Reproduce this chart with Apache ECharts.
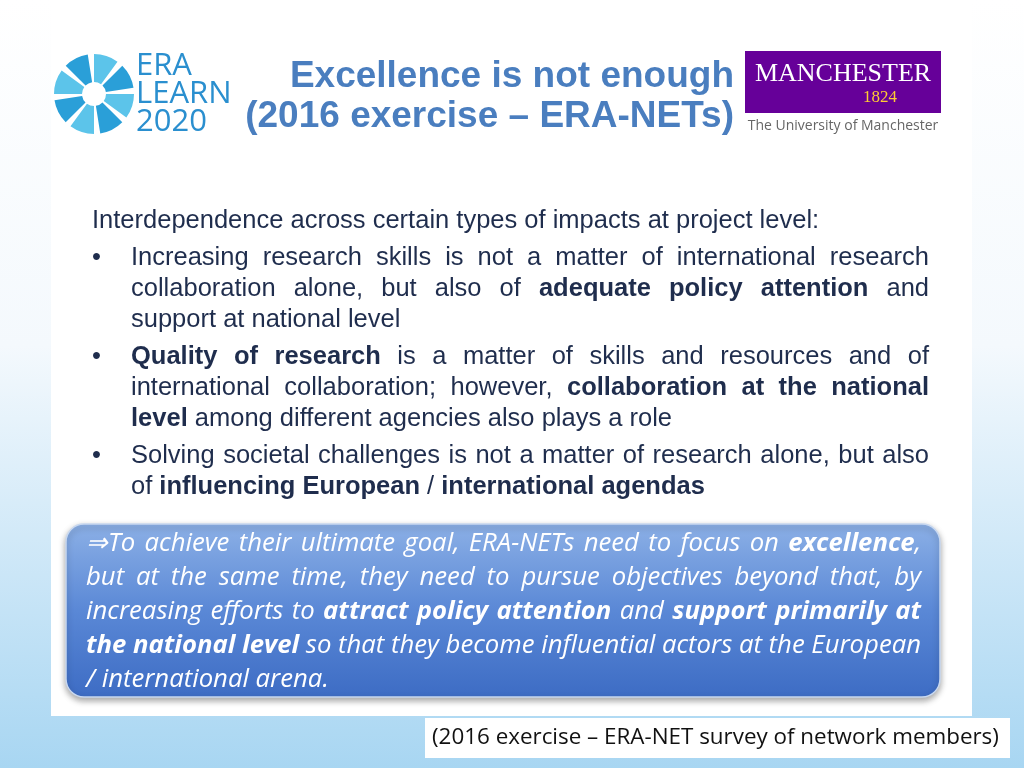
<!DOCTYPE html>
<html><head><meta charset="utf-8">
<script src="https://cdn.jsdelivr.net/npm/echarts@6/dist/echarts.min.js"></script>
<style>html,body{margin:0;padding:0;}#c{width:1024px;height:768px;}</style>
</head><body><div id="c"></div>
<script>
const titleLines = ["Excellence is not enough", "(2016 exercise – ERA-NETs)"];
const introLine = "Interdependence across certain types of impacts at project level:";
const bulletLines = [
  [["Increasing research skills is not a matter of international research",""]],
  [["collaboration alone, but also of ",""],["adequate policy attention","b"],[" and",""]],
  [["support at national level",""]],
  [["Quality of research","b"],[" is a matter of skills and resources and of",""]],
  [["international collaboration; however, ",""],["collaboration at the national","b"]],
  [["level","b"],[" among different agencies also plays a role",""]],
  [["Solving societal challenges is not a matter of research alone, but also",""]],
  [["of ",""],["influencing European","b"],[" / ",""],["international agendas","b"]]
];
const bulletStarts = [0,3,6];
const bulletJustify = [1,1,0,1,1,0,1,0];
const boxLines = [
  [["⇒To achieve their ultimate goal, ERA-NETs need to focus on ",""],["excellence","b"],[",",""]],
  [["but at the same time, they need to pursue objectives beyond that, by",""]],
  [["increasing efforts to ",""],["attract policy attention","b"],[" and ",""],["support primarily at","b"]],
  [["the national level","b"],[" so that they become influential actors at the European",""]],
  [["/ international arena.",""]]
];
const boxJustify = [1,1,1,1,0];
const footer = "(2016 exercise – ERA-NET survey of network members)";

const ctx=document.createElement('canvas').getContext('2d');
function w(text,font){ctx.font=font;return ctx.measureText(text).width;}
const chart = echarts.init(document.getElementById('c'));
const g = [];
function layoutLine(line,x0,x1,y,fonts,fill,justify){
  const words=[];
  line.forEach(([t,s])=>{
    const parts=t.split(' ');
    parts.forEach((p,i)=>{
      if(i>0) words.push({sp:true});
      if(p!=='') {
        const prev=words[words.length-1];
        if(prev && !prev.sp) prev.parts.push([p,s]); else words.push({parts:[[p,s]]});
      }
    });
  });
  const toks=words.filter(x=>!x.sp);
  const f=s=>s?fonts.b:fonts.n;
  const ww=toks.map(t=>t.parts.reduce((a,[p,s])=>a+w(p,f(s)),0));
  const sw=w(' ',fonts.n);
  const total=ww.reduce((a,b)=>a+b,0);
  const gap=justify&&toks.length>1?(x1-x0-total)/(toks.length-1):sw;
  let x=x0;
  toks.forEach((t,i)=>{
    let xx=x;
    t.parts.forEach(([p,s])=>{
      g.push({type:'text',x:xx,y:y,style:{text:p,font:f(s),fill:fill,textVerticalAlign:'middle'}});
      xx+=w(p,f(s));
    });
    x+=ww[i]+gap;
  });
}
g.push({type:'rect',shape:{x:0,y:0,width:1024,height:768},style:{fill:new echarts.graphic.LinearGradient(0,0,0,1,[{offset:0,color:'#ffffff'},{offset:0.45,color:'#f4f9fd'},{offset:1,color:'#a8d6f2'}])}});
g.push({type:'rect',shape:{x:51,y:0,width:921,height:716},style:{fill:'#ffffff'}});
for(let i=0;i<8;i++){
  const a=i*Math.PI/4;
  g.push({type:'sector',shape:{cx:94,cy:94,r:40,r0:12,startAngle:a,endAngle:a+Math.PI/5},style:{fill:i%2?'#2a9fd8':'#5cc4ea'}});
}
g.push({type:'circle',shape:{cx:94,cy:94,r:10},style:{fill:'#ffffff'}});
const lf='normal 31px "Open Sans", sans-serif';
[["ERA",66],["LEARN",94],["2020",122]].forEach(([t,y])=>g.push({type:'text',x:136,y:y,style:{text:t,font:lf,fill:'#2a8fcf',textVerticalAlign:'middle'}}));
titleLines.forEach((t,i)=>g.push({type:'text',x:734,y:77+i*40,style:{text:t,font:'bold 37px "Liberation Sans", Arial, sans-serif',fill:'#4a7ebf',textAlign:'right',textVerticalAlign:'middle'}}));
g.push({type:'rect',shape:{x:745,y:51,width:196,height:62},style:{fill:'#660099'}});
g.push({type:'text',x:843,y:74,style:{text:'MANCHESTER',font:'26px "Liberation Serif", serif',fill:'#ffffff',textAlign:'center',textVerticalAlign:'middle'}});
g.push({type:'text',x:880,y:98,style:{text:'1824',font:'17px "Liberation Serif", serif',fill:'#ffcc33',textAlign:'center',textVerticalAlign:'middle'}});
g.push({type:'text',x:843,y:126,style:{text:'The University of Manchester',font:'14px "Open Sans", sans-serif',fill:'#666666',textAlign:'center',textVerticalAlign:'middle'}});
const bf='"Liberation Sans", Arial, sans-serif';
const bodyColor='#1f2d4d';
const bfonts={n:'25.5px '+bf,b:'bold 25.5px '+bf};
g.push({type:'text',x:92,y:221,style:{text:introLine,font:bfonts.n,fill:bodyColor,textVerticalAlign:'middle'}});
const ys=[258,289,320,357,388,419,456,487];
bulletLines.forEach((l,i)=>{
  if(bulletStarts.includes(i)) g.push({type:'text',x:92,y:ys[i],style:{text:'•',font:bfonts.n,fill:bodyColor,textVerticalAlign:'middle'}});
  layoutLine(l,131,929,ys[i],bfonts,bodyColor,bulletJustify[i]);
});
g.push({type:'rect',shape:{x:66,y:524,width:874,height:173,r:18},style:{fill:new echarts.graphic.LinearGradient(0,0,0,1,[{offset:0,color:'#8cb0e6'},{offset:0.5,color:'#5a88d6'},{offset:1,color:'#3d6cc4'}]),stroke:'#c8d8f0',lineWidth:1.5,shadowBlur:6,shadowColor:'rgba(0,0,0,0.35)',shadowOffsetY:3}});
const of='"Open Sans", sans-serif';
const ofonts={n:'italic 25.7px '+of,b:'italic bold 25.7px '+of};
boxLines.forEach((l,i)=>layoutLine(l,86,921,544+i*34,ofonts,'#ffffff',boxJustify[i]));
g.push({type:'rect',shape:{x:425,y:718,width:585,height:40},style:{fill:'#ffffff'}});
g.push({type:'text',x:432,y:738,style:{text:footer,font:'22.4px "Open Sans", sans-serif',fill:'#111111',textVerticalAlign:'middle'}});
chart.setOption({animation:false,graphic:{elements:g}});
</script></body></html>
